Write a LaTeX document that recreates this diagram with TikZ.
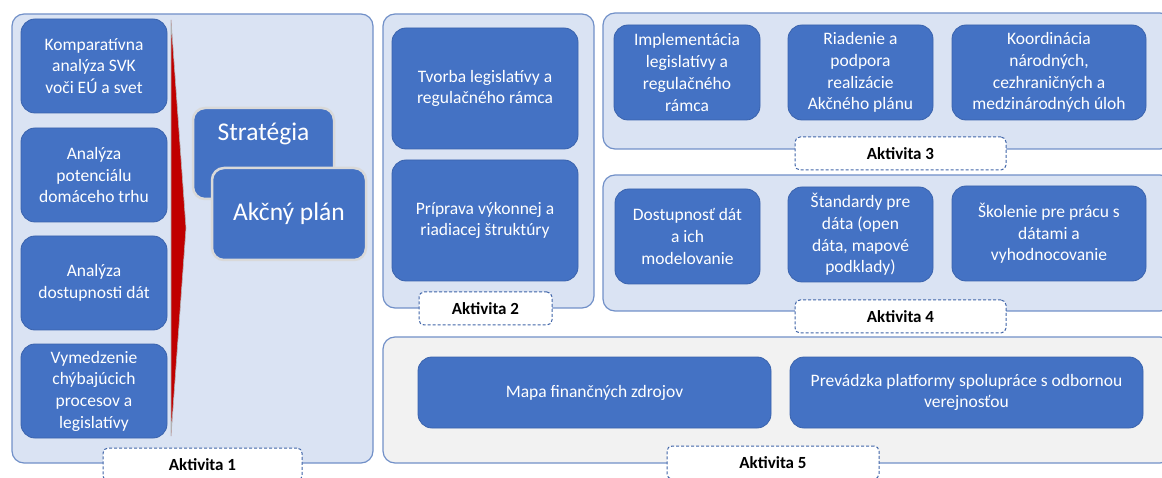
\documentclass[tikz,border=0pt]{standalone}
\usepackage{fontspec}
\setmainfont{Carlito}
\definecolor{panelfill}{HTML}{DAE3F3}
\definecolor{paneldraw}{HTML}{7190C8}
\definecolor{boxfill}{HTML}{4472C4}
\definecolor{boxdraw}{HTML}{3A63AD}
\definecolor{tagdraw}{HTML}{3F64A8}
\definecolor{greyfill}{HTML}{F2F2F2}
\definecolor{wedgered}{HTML}{C00000}
\begin{document}
\begin{tikzpicture}[x=1pt,y=-1pt,
panel/.style={draw=paneldraw,fill=panelfill,rounded corners=12pt,line width=1.2pt,inner sep=0pt},
actbox/.style={draw=boxdraw,fill=boxfill,rounded corners=14pt,line width=0.8pt,text=white,align=center,inner sep=2pt,font=\fontsize{17.5}{21.7}\selectfont},
planbox/.style={draw=black!15,fill=boxfill,rounded corners=12pt,line width=2.5pt,text=white,inner sep=0pt,font=\fontsize{25.5}{30}\selectfont},
tag/.style={draw=tagdraw,fill=white,dashed,dash pattern=on 3pt off 2pt,rounded corners=5pt,line width=1pt,inner sep=0pt,font=\bfseries\fontsize{17}{20}\selectfont}]

\useasboundingbox (0,0) rectangle (1162,478);

\node[panel,minimum width=361pt,minimum height=449pt] (p1) at (192.5,238.5) {};
\node[panel,minimum width=211pt,minimum height=294pt] (p2) at (488.5,161) {};
\node[panel,minimum width=569pt,minimum height=136pt] (p3) at (887.5,81) {};
\node[panel,minimum width=569pt,minimum height=136pt] (p4) at (887.5,243) {};
\node[panel,fill=greyfill,minimum width=789pt,minimum height=126pt] (p5) at (777.5,400) {};

\node[actbox,minimum width=146pt,minimum height=94pt] (a11) at (94,66) {Komparatívna\\analýza SVK\\voči EÚ a svet};
\node[actbox,minimum width=146pt,minimum height=94pt] (a12) at (94,175) {Analýza\\potenciálu\\domáceho trhu};
\node[actbox,minimum width=146pt,minimum height=94pt] (a13) at (94,283) {Analýza\\dostupnosti dát};
\node[actbox,minimum width=146pt,minimum height=94pt] (a14) at (94,391) {Vymedzenie\\chýbajúcich\\procesov a\\legislatívy};

\draw[draw=black!30,fill=wedgered,line width=0.6pt] (171,20) -- (186,228) -- (171,436) -- cycle;

\node[planbox,minimum width=141pt,text height=26pt,text depth=51pt,inner ysep=7pt] (strat) at (263.5,153.5) {Stratégia};
\node[planbox,minimum width=154pt,minimum height=92pt] (plan) at (289,214) {Akčný plán};

\node[actbox,minimum width=186pt,minimum height=121pt] (a21) at (485,88.5) {Tvorba legislatívy a\\regulačného rámca};
\node[actbox,minimum width=186pt,minimum height=121pt] (a22) at (485,220.5) {Príprava výkonnej a\\riadiacej štruktúry};

\node[actbox,minimum width=146pt,minimum height=95pt] (a31) at (687,72.5) {Implementácia\\legislatívy a\\regulačného\\rámca};
\node[actbox,minimum width=145pt,minimum height=95pt] (a32) at (860.5,72.5) {Riadenie a\\podpora\\realizácie\\Akčného plánu};
\node[actbox,minimum width=194pt,minimum height=95pt] (a33) at (1049,72.5) {Koordinácia\\národných,\\cezhraničných a\\medzinárodných úloh};

\node[actbox,minimum width=145pt,minimum height=95pt] (a41) at (687.5,236.5) {Dostupnosť dát\\a ich\\modelovanie};
\node[actbox,minimum width=145pt,minimum height=95pt] (a42) at (860.5,234.5) {Štandardy pre\\dáta (open\\dáta, mapové\\podklady)};
\node[actbox,minimum width=194pt,minimum height=95pt] (a43) at (1049,233.5) {Školenie pre prácu s\\dátami a\\vyhodnocovanie};

\node[actbox,minimum width=353pt,minimum height=71pt] (a51) at (594.5,392.5) {Mapa finančných zdrojov};
\node[actbox,minimum width=353pt,minimum height=71pt] (a52) at (966.5,392.5) {Prevádzka platformy spolupráce s odbornou\\verejnosťou};

\node[tag,minimum width=199pt,minimum height=33pt] (t1) at (202.5,464.5) {Aktivita 1};
\node[tag,minimum width=133pt,minimum height=33pt] (t2) at (485.5,308.5) {Aktivita 2};
\node[tag,minimum width=211pt,minimum height=33pt] (t3) at (900.5,153.5) {Aktivita 3};
\node[tag,minimum width=211pt,minimum height=33pt] (t4) at (900.5,316.5) {Aktivita 4};
\node[tag,minimum width=212pt,minimum height=33pt] (t5) at (773,462.5) {Aktivita 5};

\end{tikzpicture}
\end{document}
